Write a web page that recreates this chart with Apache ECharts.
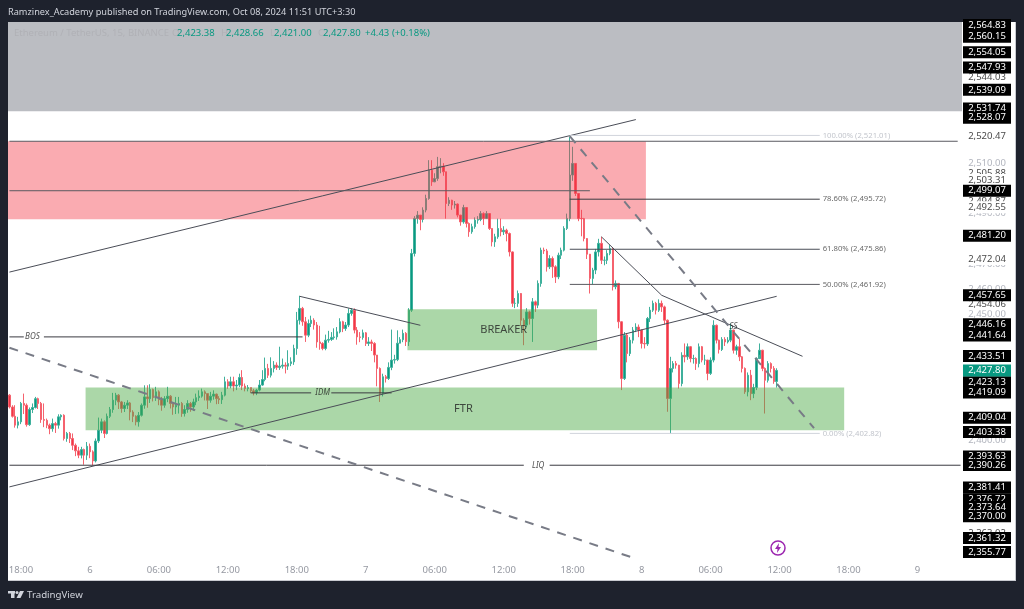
<!DOCTYPE html>
<html>
<head>
<meta charset="utf-8">
<title>ETHUSDT 15m</title>
<script src="https://cdn.jsdelivr.net/npm/echarts@6/dist/echarts.min.js"></script>
<style>
  html, body { margin: 0; padding: 0; background: #1e222d; }
  #chart { width: 1024px; height: 609px; }
</style>
</head>
<body>
<div id="chart"></div>
<script>
// 15 minute bars, first one is Oct 5 17:00
const opens = [
  2418,2413.3,2409.6,2406.1,2407.4,2414.7,2414,2406.3,2412.3,2413.1,
  2416.6,2414.7,2408.3,2408,2406.1,2404.7,2406.7,2406.1,2409.4,2410,
  2400.8,2402.8,2400.8,2398.1,2395.9,2394.2,2396.4,2394.2,2397.7,2395.5,
  2391.9,2399.8,2404.1,2407.4,2402.8,2409.6,2412.3,2416,2418,2415.3,
  2412.7,2414,2414.9,2411.3,2409.6,2407.4,2410,2414,2417.3,2416.6,
  2420.2,2417,2419.3,2416.2,2414,2416.6,2417.6,2414.7,2413.3,2414,
  2414.7,2410.7,2412.3,2414.7,2413.3,2415.3,2417,2417.6,2419.3,2418.6,
  2416,2417.6,2418.4,2416.6,2416.2,2418,2423.3,2421.6,2423.3,2421.6,
  2422,2425,2421.6,2420.6,2421,2419.7,2418.9,2420,2422,2424.2,
  2428.6,2425.9,2428.6,2429.9,2429,2429.5,2429.9,2429.5,2430.5,2431.2,
  2436.5,2447.7,2452.4,2447.1,2441.8,2446.4,2447.7,2445.8,2439.1,2438.5,
  2436.5,2439.8,2440.1,2440.9,2441.1,2443.1,2447.1,2444.4,2445.8,2450.4,
  2451.7,2443.8,2441.1,2440.9,2442.7,2438.5,2439.1,2438.5,2433.9,2428.6,
  2418.7,2425.3,2424.6,2429,2431.9,2432.1,2438.6,2440,2442.5,2439.2,
  2451.7,2474.2,2488.1,2489.4,2487.7,2491.4,2496,2507.2,2502.6,2503.9,
  2508.6,2508.8,2506.6,2494,2495.3,2493.4,2493.8,2489.4,2486.7,2492.4,
  2486.1,2482.8,2484.8,2487.4,2487.7,2490,2488.1,2490,2484.1,2478.8,
  2480.8,2484.1,2482.8,2483.4,2482.1,2474.8,2454.4,2454.4,2458.3,2447.7,
  2445.8,2451,2448.4,2455,2453.7,2462.3,2475.5,2475.2,2468.9,2472.2,
  2468.9,2464.9,2473.5,2475.5,2484.1,2488.1,2505.3,2509.9,2498,2488.1,
  2488,2480.1,2473.9,2464.3,2467.6,2474.8,2478.2,2471.5,2471.5,2474.2,
  2476.2,2461,2462.3,2447.1,2424.6,2441.8,2434.5,2439.8,2443.8,2445,
  2443.8,2438.5,2438.3,2448.4,2451.7,2454.4,2451.7,2454.4,2453,2447.7,
  2416.7,2428.6,2430.5,2429.9,2422.6,2433.8,2433.2,2437.2,2432.5,2432.5,
  2430.5,2437.2,2431.9,2431.9,2426.6,2431.9,2445.7,2439.8,2436.1,2440.1,
  2439.1,2439.8,2443.8,2435.8,2437.2,2433.2,2428.6,2419.3,2425.9,2418.6,
  2421,2432.5,2435.8,2428.6,2423.9,2430.5,2428.6,2423.38
]
const closes = [
  2413.3,2409.6,2406.1,2407.4,2414.7,2414,2406.3,2412.3,2413.1,2416.6,
  2414.7,2408.3,2408,2406.1,2404.7,2406.7,2406.1,2409.4,2410,2400.8,
  2402.8,2400.8,2398.1,2395.9,2394.2,2396.4,2394.2,2397.7,2395.5,2391.9,
  2399.8,2404.1,2407.4,2402.8,2409.6,2412.3,2416,2418,2415.3,2412.7,
  2414,2414.9,2411.3,2409.6,2407.4,2410,2414,2417.3,2416.6,2420.2,
  2417,2419.3,2416.2,2414,2416.6,2417.6,2414.7,2413.3,2414,2414.7,
  2410.7,2412.3,2414.7,2413.3,2415.3,2417,2417.6,2419.3,2418.6,2416,
  2417.6,2418.4,2416.6,2416.2,2418,2423.3,2421.6,2423.3,2421.6,2422,
  2425,2421.6,2420.6,2421,2419.7,2418.9,2420,2422,2424.2,2428.6,
  2425.9,2428.6,2429.9,2429,2429.5,2429.9,2429.5,2430.5,2431.2,2436.5,
  2447.7,2452.4,2447.1,2441.8,2446.4,2447.7,2445.8,2439.1,2438.5,2436.5,
  2439.8,2440.1,2440.9,2441.1,2443.1,2447.1,2444.4,2445.8,2450.4,2451.7,
  2443.8,2441.1,2440.9,2442.7,2438.5,2439.1,2438.5,2433.9,2428.6,2418.7,
  2425.3,2424.6,2429,2431.9,2432.1,2438.6,2440,2442.5,2439.2,2451.7,
  2474.2,2488.1,2489.4,2487.7,2491.4,2496,2507.2,2502.6,2503.9,2508.6,
  2508.8,2506.6,2494,2495.3,2493.4,2493.8,2489.4,2486.7,2492.4,2486.1,
  2482.8,2484.8,2487.4,2487.7,2490,2488.1,2490,2484.1,2478.8,2480.8,
  2484.1,2482.8,2483.4,2482.1,2474.8,2454.4,2454.4,2458.3,2447.7,2445.8,
  2451,2448.4,2455,2453.7,2462.3,2475.5,2475.2,2468.9,2472.2,2468.9,
  2464.9,2473.5,2475.5,2484.1,2488.1,2505.3,2509.9,2498,2488.1,2488,
  2480.1,2473.9,2464.3,2467.6,2474.8,2478.2,2471.5,2471.5,2474.2,2476.2,
  2461,2462.3,2447.1,2424.6,2441.8,2434.5,2439.8,2443.8,2445,2443.8,
  2438.5,2438.3,2448.4,2451.7,2454.4,2451.7,2454.4,2453,2447.7,2416.7,
  2428.6,2430.5,2429.9,2422.6,2433.8,2433.2,2437.2,2432.5,2432.5,2430.5,
  2437.2,2431.9,2431.9,2426.6,2431.9,2445.7,2439.8,2436.1,2440.1,2439.1,
  2439.8,2443.8,2435.8,2437.2,2433.2,2428.6,2419.3,2425.9,2418.6,2421,
  2432.5,2435.8,2428.6,2423.9,2430.5,2428.6,2423.38,2427.8
]
const highs = [
  2418.4,2414,2414,2409.4,2415.3,2418.6,2414.7,2413.1,2414.7,2417.3,
  2417,2415.3,2414.7,2408.7,2406.7,2408.7,2407.4,2410.4,2410.4,2410.4,
  2403.4,2403.4,2402.8,2398.8,2397.5,2397.5,2396.8,2399.4,2398.8,2396.1,
  2400.8,2409.1,2408.7,2408,2410.7,2413.3,2418.9,2418.9,2418.4,2415.7,
  2415.3,2416,2415.3,2412,2410,2411.3,2414.7,2421.9,2421.9,2422.3,
  2420.6,2421.3,2419.9,2417.3,2417.6,2421.3,2418,2414.7,2417.3,2417.3,
  2415.3,2414,2416,2415.3,2416.6,2418.6,2419.9,2420.6,2419.9,2418.6,
  2419.3,2419.9,2418.6,2417.6,2419.3,2425.3,2424.3,2425.3,2425.3,2424,
  2426.5,2427.9,2422.6,2422,2421,2420.5,2420.5,2424,2427.9,2432.9,
  2430.4,2433,2431.5,2431,2437.2,2432.5,2431,2435.8,2433,2438,
  2451,2457.4,2453,2449,2448,2449.5,2448.5,2447,2445.5,2439,
  2442,2443.5,2443,2444.5,2445,2448.5,2447.5,2447,2452.4,2452.5,
  2452.4,2445,2443,2444,2443,2441,2440,2439,2430,2429,
  2426.5,2426,2431,2444,2434,2443.7,2441,2444,2443,2452.5,
  2476,2489,2491,2489.4,2492.5,2497.5,2511.2,2511.2,2506,2512.5,
  2512,2510,2506.6,2496.5,2495.5,2495,2494,2489.5,2493.5,2492.5,
  2486.5,2486,2488.5,2489,2491,2490.5,2491,2490.2,2484.1,2482,
  2488,2488,2485,2484,2482.5,2475,2456.5,2459.5,2458.5,2448.5,
  2452.5,2451.5,2456.5,2455.5,2463.5,2476.5,2476.5,2476,2473.5,2473,
  2469.5,2474.5,2476.5,2485,2490,2520.5,2516.5,2510,2498,2491.5,
  2488.3,2480.3,2474,2468.5,2476,2480,2480.8,2473,2475.5,2477.5,
  2476.5,2463.5,2462.5,2447.3,2443,2442.5,2441,2445,2446.5,2446,
  2444,2441,2449,2453,2455.5,2455,2456,2455.5,2453.5,2448,
  2433.2,2431.5,2431.5,2430,2435,2438.5,2438.5,2437.5,2434,2433,
  2438.5,2437.5,2434,2432,2433,2447.7,2446,2440,2441,2441,
  2441,2446.4,2444,2438,2440.5,2433.5,2429,2427,2428,2422.5,
  2433,2438.5,2436,2429,2431.5,2431,2429.5,2428.66
]
const lows = [
  2412.7,2409.1,2405.1,2404.8,2406.5,2410.5,2405.5,2405.8,2410.9,2412.7,
  2412.5,2407,2405.3,2404.9,2402.5,2403.5,2403,2404.7,2408,2400,
  2399.5,2399,2396.2,2393.8,2393,2392.9,2390.4,2392.3,2393,2390.2,
  2391.3,2399,2402.9,2401,2402.4,2408.9,2411,2414,2412.5,2411,
  2411.3,2412.5,2408,2407.3,2406,2405.5,2409.5,2412.6,2413,2414.9,
  2415.5,2415.7,2414,2411.8,2413,2415.2,2412.7,2410.2,2410.5,2410.7,
  2409.4,2409.5,2411,2411.4,2411.7,2414,2415.7,2417,2415.9,2412.5,
  2415,2416.2,2414.4,2414.5,2414.5,2417.5,2420.5,2420.7,2419.5,2420,
  2421.2,2420,2419.5,2419.5,2418.8,2417.9,2418,2419.5,2421.7,2423.5,
  2424.8,2425,2427,2428,2428,2428.5,2426.6,2428,2429.5,2430,
  2434,2446,2445.5,2439.1,2441,2445,2444,2436.8,2436,2435.8,
  2435.8,2438.8,2439.5,2440,2440,2442.5,2443,2443.5,2445,2449.5,
  2442.5,2438,2439,2440,2437.5,2437.5,2435.5,2431,2421.5,2415.3,
  2417.5,2423,2424,2427.9,2430.5,2431.5,2438.8,2439,2437.5,2437.5,
  2451,2473,2486,2483.4,2486.5,2490.5,2495.5,2501,2502.5,2503,
  2506,2505,2488,2493,2491.5,2492,2488.5,2485.2,2486,2484.5,
  2480.8,2482,2484,2486,2487,2485.5,2488,2483.5,2477,2476.8,
  2480,2481,2481.5,2479,2473,2453,2452.5,2453,2445.5,2437.8,
  2445,2446,2439.1,2451,2452.5,2461,2474,2467,2468,2464.5,
  2462.5,2464,2472,2475,2483.5,2487,2503,2497,2487,2481,
  2479,2472,2458.3,2462,2466,2473,2470,2469.5,2470,2473.5,
  2459.5,2460,2444.5,2420,2424,2431,2433.5,2438.5,2443,2441,
  2436.5,2436.5,2437.5,2447,2451,2450,2451,2451,2446,2411.4,
  2402.8,2427,2428.5,2420.6,2421.5,2431,2432,2431,2430.5,2428,
  2429,2431,2430,2423.9,2426,2431,2438.5,2434.5,2435.5,2437.5,
  2438.5,2439,2434.5,2434,2431.5,2427,2418.5,2417.5,2416,2416.8,
  2420,2434,2427.5,2410.7,2423,2427,2422.5,2421
]

// one label every 24 bars, starting at bar 4
const tickLabels = ['18:00', '6', '06:00', '12:00', '18:00', '7', '06:00', '12:00', '18:00', '8', '06:00', '12:00', '18:00', '9']
const barCount = 332
const categories = []
for (let i = 0; i < barCount; i++) {
  categories.push((i - 4) % 24 === 0 ? tickLabels[(i - 4) / 24] : '')
}

// price scale labels
const plainPrices = [2544.03, 2520.47, 2505.88, 2503.31, 2494.87, 2492.55, 2472.04, 2454.06, 2363.02]
const fadedPrices = [2510, 2490, 2470, 2460, 2450, 2400]
const topPrice = [2564.83] // own axis, echarts drops the label next to the max otherwise
const boxedPrices = [2560.15, 2554.05, 2547.93, 2539.09, 2531.74, 2528.07, 2499.07, 2481.2, 2457.65,
  2446.16, 2441.64, 2433.51, 2423.13, 2419.09, 2409.04, 2403.38, 2393.63, 2390.26, 2381.41,
  2376.72, 2373.64, 2370, 2361.32, 2355.77]
const lastPrice = [2427.8]

// zones: [from bar, to bar, top price, bottom price]
const supplyZone = [0, 221, 2518.7, 2487.8]
const premiumBand = [0, 331, 2566, 2530.6]
const breakerZone = [139, 204, 2452.1, 2435.8]
const ftrZone = [27, 290, 2421, 2404.1]

// drawn lines as [bar, price]
const upperChannel = [[0, 2466.8], [218, 2527.3]]
const lowerChannel = [[0, 2381.6], [267, 2457.2]]
const midLine = [[0, 2499.07], [202, 2499.07]]
const topLine = [[0, 2518.7], [330, 2518.7]]
const bosLeft = [[0, 2441.1], [5, 2441.1]]
const bosRight = [[12, 2441.1], [102, 2441.1]]
const idmLeft = [[84, 2418.9], [105, 2418.9]]
const idmRight = [[112, 2418.9], [133, 2418.9]]
const liqLeft = [[0, 2390.2], [179, 2390.2]]
const liqRight = [[188, 2390.2], [331, 2390.2]]
const wedgeLeft = [[101, 2457.2], [143, 2445.7]]
const wedgeRight = [[206, 2480.8], [227, 2457.6], [276, 2433.4]]
const fib786 = [[195, 2495.72], [282, 2495.72]]
const fib618 = [[195, 2475.86], [282, 2475.86]]
const fib500 = [[195, 2461.92], [282, 2461.92]]
const fib100 = [[195, 2521.01], [282, 2521.01]]
const fib000 = [[195, 2402.82], [282, 2402.82]]
const dashedFall = [[0, 2436.8], [217, 2353.5]]
const dashedDrop = [[195, 2520.7], [280, 2404.9]]

// texts on the chart: [bar, price, text]
const smallNotes = [[8, 2441.1, 'BOS'], [109, 2418.9, 'IDM'], [184, 2390.2, 'LIQ'], [252, 2445, 'SS']]
const zoneNotes = [[172, 2443.8, 'BREAKER'], [158, 2412.4, 'FTR']]
const fibNotes = [[283, 2495.72, '78.60% (2,495.72)'], [283, 2475.86, '61.80% (2,475.86)'], [283, 2461.92, '50.00% (2,461.92)']]
const fibFadedNotes = [[283, 2521.01, '100.00% (2,521.01)'], [283, 2402.82, '0.00% (2,402.82)']]

const candleRows = opens.map((o, i) => [o, closes[i], lows[i], highs[i]])
const fontName = '"Noto Sans", sans-serif'

const chart = echarts.init(document.getElementById('chart'))

function priceAxis(values, rich) {
  return {
    type: 'value',
    position: 'right',
    min: 2353.4,
    max: 2566,
    axisLine: { show: false },
    axisTick: { show: false },
    splitLine: { show: false },
    axisLabel: {
      customValues: values,
      margin: 1,
      showMinLabel: true,
      showMaxLabel: true,
      formatter: (v) => '{a|' + v.toLocaleString('en-US', { minimumFractionDigits: 2, maximumFractionDigits: 2 }) + '}',
      rich: { a: rich }
    }
  }
}

function box(color, bg) {
  return {
    color: color,
    backgroundColor: bg,
    fontFamily: fontName,
    fontSize: 9.5,
    width: 48,
    height: 12,
    lineHeight: 12,
    align: 'center'
  }
}

function lineSeries(data, color, width, type) {
  return {
    type: 'line',
    data: data,
    symbol: 'none',
    silent: true,
    z: 5,
    animation: false,
    lineStyle: { color: color, width: width || 1, type: type || 'solid' }
  }
}

function noteSeries(data, label) {
  return {
    type: 'scatter',
    data: data,
    symbolSize: 0,
    silent: true,
    z: 6,
    animation: false,
    label: Object.assign({ show: true, fontFamily: fontName, formatter: (p) => p.value[2] }, label)
  }
}

const zoneFills = ['rgba(120,123,134,0.5)', 'rgba(242,54,69,0.42)', 'rgba(76,170,70,0.47)', 'rgba(76,170,70,0.47)']

const legendItems = [
  [14, 'Ethereum / TetherUS, 15, BINANCE', '#b0b1b6'],
  [172, 'O', '#b0b1b6'], [177, '2,423.38', '#089981'],
  [221, 'H', '#b0b1b6'], [226, '2,428.66', '#089981'],
  [270, 'L', '#b0b1b6'], [274, '2,421.00', '#089981'],
  [318, 'C', '#b0b1b6'], [323, '2,427.80', '#089981'],
  [365, '+4.43', '#089981'], [392, '(+0.18%)', '#089981']
]

chart.setOption({
  backgroundColor: '#1e222d',
  animation: false,
  grid: { left: 8, top: 22, width: 954, height: 536, containLabel: false },
  xAxis: {
    type: 'category',
    data: categories,
    boundaryGap: true,
    axisLine: { show: false },
    axisTick: { show: false },
    splitLine: { show: false },
    axisLabel: {
      color: '#9598a1',
      fontFamily: fontName,
      fontSize: 9.5,
      margin: 7,
      interval: (i) => (i - 4) % 24 === 0
    }
  },
  yAxis: [
    priceAxis(fadedPrices, box('#b2b5be', '#ffffff')),
    priceAxis(plainPrices, box('#4a4a4a', '#ffffff')),
    priceAxis(topPrice, box('#ffffff', '#000000')),
    priceAxis(boxedPrices, box('#ffffff', '#000000')),
    priceAxis(lastPrice, box('#ffffff', '#089981'))
  ],
  series: [
    {
      type: 'candlestick',
      data: candleRows,
      barWidth: 2,
      z: 2,
      silent: true,
      animation: false,
      itemStyle: {
        color: '#089981',
        color0: '#f23645',
        borderColor: '#3fb09c',
        borderColor0: '#f5626e',
        borderWidth: 1
      }
    },
    {
      type: 'custom',
      data: [premiumBand, supplyZone, breakerZone, ftrZone],
      z: 3,
      silent: true,
      clip: true,
      animation: false,
      encode: { x: [0, 1], y: [2, 3] },
      renderItem: (params, api) => {
        const half = api.size([1, 0])[0] / 2
        const a = api.coord([api.value(0), api.value(2)])
        const b = api.coord([api.value(1), api.value(3)])
        return {
          type: 'rect',
          shape: { x: a[0] - half, y: a[1], width: b[0] - a[0] + half * 2, height: b[1] - a[1] },
          style: { fill: zoneFills[params.dataIndex] }
        }
      }
    },
    lineSeries(upperChannel, '#4a4d57'),
    lineSeries(lowerChannel, '#4a4d57'),
    lineSeries(midLine, '#5a5a60'),
    lineSeries(topLine, '#5a5a60'),
    lineSeries(bosLeft, '#3a3a40'),
    lineSeries(bosRight, '#3a3a40'),
    lineSeries(idmLeft, '#3a3a40'),
    lineSeries(idmRight, '#3a3a40'),
    lineSeries(liqLeft, '#3a3a40'),
    lineSeries(liqRight, '#3a3a40'),
    lineSeries(wedgeLeft, '#4a4d57'),
    lineSeries(wedgeRight, '#4a4d57'),
    lineSeries(fib786, '#3a3a40'),
    lineSeries(fib618, '#4a4d57'),
    lineSeries(fib500, '#5a5a60'),
    lineSeries(fib100, '#d1d4dc'),
    lineSeries(fib000, '#d1d4dc'),
    lineSeries(dashedFall, '#787b86', 2, [9, 8]),
    lineSeries(dashedDrop, '#787b86', 2, [9, 8]),
    noteSeries(smallNotes, { position: 'inside', color: '#222222', fontSize: 8, fontStyle: 'italic' }),
    noteSeries(zoneNotes, { position: 'inside', color: '#222222', fontSize: 11 }),
    noteSeries(fibNotes, { position: 'right', distance: 0, color: '#444444', fontSize: 7.7 }),
    noteSeries(fibFadedNotes, { position: 'right', distance: 0, color: '#b2b5be', fontSize: 7.7 })
  ],
  graphic: [
    { type: 'rect', z: -10, shape: { x: 8, y: 22, width: 1007, height: 558 }, style: { fill: '#ffffff' } },
    { type: 'rect', z: -9, shape: { x: 1015, y: 22, width: 1, height: 559 }, style: { fill: '#c9cbd1' } },
    { type: 'rect', z: -9, shape: { x: 8, y: 580, width: 1008, height: 1 }, style: { fill: '#c9cbd1' } },
    {
      type: 'text', x: 8, y: 12, z: 20,
      style: {
        text: 'Ramzinex_Academy published on TradingView.com, Oct 08, 2024 11:51 UTC+3:30',
        fill: '#d1d4dc', font: '9.2px ' + fontName, verticalAlign: 'middle'
      }
    }
  ].concat(legendItems.map((t) => ({
    type: 'text', x: t[0], y: 33, z: 20,
    style: { text: t[1], fill: t[2], font: '9.5px ' + fontName, verticalAlign: 'middle' }
  }))).concat([
    { type: 'rect', z: 20, shape: { x: 8, y: 591, width: 7, height: 2.5 }, style: { fill: '#d1d4dc' } },
    { type: 'rect', z: 20, shape: { x: 11, y: 591, width: 3.5, height: 7 }, style: { fill: '#d1d4dc' } },
    { type: 'circle', z: 20, shape: { cx: 17, cy: 592.5, r: 1.5 }, style: { fill: '#d1d4dc' } },
    { type: 'polygon', z: 20, shape: { points: [[20, 591], [24, 591], [20.5, 598], [16.5, 598]] }, style: { fill: '#d1d4dc' } },
    {
      type: 'text', x: 27, y: 595, z: 20,
      style: { text: 'TradingView', fill: '#d1d4dc', font: '9.7px ' + fontName, verticalAlign: 'middle' }
    },
    { type: 'circle', z: 20, shape: { cx: 778, cy: 548, r: 7 }, style: { fill: '#ffffff', stroke: '#9c27b0', lineWidth: 1.5 } },
    { type: 'polygon', z: 21, shape: { points: [[779, 543], [775, 549], [777.5, 549], [777, 553], [781, 547], [778.5, 547]] }, style: { fill: '#9c27b0' } }
  ])
})
</script>
</body>
</html>
